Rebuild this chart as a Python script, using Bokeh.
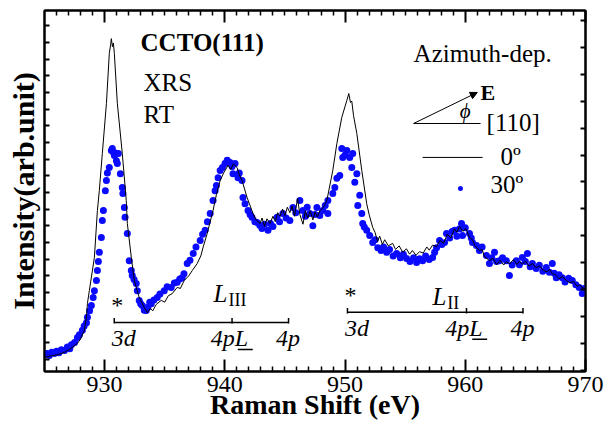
from bokeh.plotting import figure
from bokeh.models import FixedTicker, LinearAxis, Range1d, Label, Arrow, NormalHead, CustomJSTickFormatter
from bokeh.embed import file_html
from bokeh.resources import INLINE

# ---------------- data ----------------
line_x = [925.0, 925.5, 926.0, 926.66, 927.2, 927.74, 928.0, 928.32, 928.5, 928.57, 928.73, 929.15, 929.40,
          929.56, 929.81, 930.15, 930.39, 930.5, 930.56, 930.65, 930.73, 930.81, 931.06, 931.47, 931.80, 931.89,
          932.22, 932.47, 932.88, 933.30, 933.55, 933.8, 934.0, 934.3, 934.71, 935.0, 935.3, 935.6, 936.04, 936.3,
          936.62, 937.0, 937.3, 937.70, 938.0, 938.2, 938.53, 939.02, 939.3, 939.61, 939.9, 940.27, 940.5, 940.7,
          941.02, 941.2, 941.43, 941.85, 942.34, 942.6, 942.93, 943.1, 943.3, 943.5, 943.76, 944.0, 944.2, 944.4,
          944.59, 944.8, 945.0, 945.2, 945.41, 945.6, 945.8, 946.05, 946.24, 946.5, 946.7, 946.9, 947.1, 947.32,
          947.5, 947.7, 947.90, 948.2, 948.49, 948.98, 949.32, 949.73, 950.15, 950.31, 950.45, 950.56, 950.7,
          950.98, 951.39, 951.80, 952.0, 952.30, 952.5, 952.7, 952.88, 953.1, 953.3, 953.6, 953.96, 954.2, 954.5,
          954.8, 955.1, 955.37, 955.6, 955.9, 956.20, 956.5, 956.8, 957.0, 957.28, 957.6, 957.9, 958.2, 958.5,
          958.8, 959.1, 959.3, 959.52, 959.8, 960.05, 960.35, 960.6, 960.8, 961.18, 961.4, 961.6, 962.01, 962.3,
          962.6, 962.9, 963.2, 963.42, 963.7, 964.0, 964.3, 964.5, 964.75, 965.0, 965.3, 965.6, 965.9, 966.16,
          966.5, 966.8, 967.0, 967.24, 967.5, 967.8, 968.1, 968.40, 968.7, 969.0, 969.3, 969.5, 969.73, 970.0]
line_y = [3.9, 4.3, 4.6, 5.3, 6.4, 7.8, 9.0, 11.4, 15.5, 18.8, 22.4, 31.6, 44.6,
          50.1, 60.4, 74.2, 88.1, 90.5, 92.2, 90.0, 91.0, 88.1, 74.2, 60.4, 47.4, 41.0,
          31.6, 25.2, 20.5, 17.7, 16.3, 17.5, 16.8, 18.6, 19.7, 19.2, 21.0, 21.5, 23.3, 23.0,
          25.2, 26.5, 28.0, 29.9, 32.0, 34.5, 38.2, 44.6, 49.0, 52.9, 55.0, 57.1, 56.0, 57.5,
          56.5, 54.5, 52.9, 48.2, 43.8, 42.0, 41.0, 42.5, 40.2, 42.3, 41.0, 43.0, 41.5, 44.0,
          43.0, 45.0, 43.2, 45.5, 44.0, 45.8, 43.0, 47.9, 43.5, 40.8, 44.5, 42.5, 44.5, 42.0,
          44.2, 42.8, 44.5, 45.5, 47.4, 55.7, 63.2, 70.4, 75.1, 77.0, 74.5, 74.9, 71.0,
          65.9, 55.7, 46.5, 43.5, 39.9, 38.5, 36.0, 37.5, 35.2, 36.5, 34.8, 35.5, 33.8, 34.8,
          33.0, 34.0, 32.5, 33.5, 32.2, 33.2, 32.8, 34.5, 33.6, 35.0, 34.6, 36.3, 35.5, 38.0,
          37.0, 39.5, 38.6, 40.2, 38.8, 39.6, 37.1, 36.5, 34.9, 33.5, 33.8, 31.8, 30.7, 31.4,
          29.6, 30.8, 29.5, 30.4, 29.8, 31.0, 29.6, 30.6, 29.7, 30.6, 29.2, 29.9, 28.7, 29.3,
          28.0, 27.6, 28.3, 27.1, 26.8, 25.7, 26.3, 25.2, 24.6, 24.9, 23.6, 24.0, 23.3, 22.8]

dot_x = [925.0, 925.2, 925.4, 925.6, 925.83, 926.0, 926.2, 926.4, 926.66, 926.9, 927.1, 927.24, 927.5, 927.74,
         927.9, 928.15, 928.3, 928.49, 928.57, 928.75, 928.9, 929.05, 929.15, 929.32, 929.40, 929.48, 929.56,
         929.73, 929.81, 929.90, 930.06, 930.15, 930.23, 930.39, 930.56, 930.64, 930.73, 930.81, 930.9, 930.98,
         931.06, 931.14, 931.31, 931.47, 931.52, 931.64, 931.7, 931.89, 932.05, 932.22, 932.30, 932.45, 932.63,
         932.72, 932.88, 933.0, 933.13, 933.3, 933.46, 933.6, 933.75, 933.88, 934.1, 934.38, 934.6, 934.96,
         935.2, 935.54, 935.8, 936.04, 936.25, 936.45, 936.6, 936.87, 937.1, 937.37, 937.6, 937.95, 938.15,
         938.36, 938.55, 938.78, 939.02, 939.19, 939.3, 939.44, 939.61, 939.8, 940.02, 940.2, 940.44, 940.6,
         940.68, 940.85, 941.10, 941.2, 941.43, 941.51, 941.68, 941.93, 942.1, 942.26, 942.5, 942.68, 942.9,
         943.09, 943.3, 943.59, 943.8, 944.0, 944.34, 944.55, 944.83, 945.1, 945.41, 945.66, 945.9, 946.24,
         946.49, 946.7, 946.85, 947.07, 947.32, 947.5, 947.66, 947.9, 948.15, 948.35, 948.57, 948.57, 948.98,
         949.15, 949.32, 949.56, 949.73, 949.81, 950.0, 950.15, 950.39, 950.64, 950.56, 950.81, 950.98, 951.06,
         951.22, 951.39, 951.47, 951.6, 951.80, 952.05, 952.3, 952.5, 952.72, 953.0, 953.2, 953.46, 953.7,
         954.0, 954.29, 954.6, 954.85, 955.12, 955.4, 955.7, 955.95, 956.2, 956.45, 956.7, 957.0, 957.28,
         957.45, 957.61, 957.86, 958.05, 958.28, 958.44, 958.7, 958.9, 959.11, 959.3, 959.5, 959.69, 959.77,
         960.0, 960.35, 960.5, 960.60, 960.93, 961.18, 961.4, 961.76, 962.01, 962.2, 962.43, 962.6, 962.84,
         963.1, 963.42, 963.67, 963.9, 964.25, 964.5, 964.75, 965.0, 965.17, 965.4, 965.58, 965.9, 966.16,
         966.45, 966.74, 967.0, 967.24, 967.4, 967.57, 967.8, 968.07, 968.3, 968.6, 968.90, 969.2, 969.48,
         969.73, 969.9]
dot_y = [4.6, 5.0, 4.4, 5.3, 5.0, 5.6, 5.2, 6.0, 5.8, 6.8, 6.3, 7.4, 8.0, 9.4,
         10.2, 11.4, 12.6, 13.5, 15.0, 16.8, 18.3, 20.5, 22.4, 25.2, 28.0, 30.5, 33.0,
         37.1, 41.8, 44.6, 50.1, 52.9, 55.0, 56.5, 61.2, 61.8, 60.7, 59.8, 60.5, 58.4,
         57.6, 60.4, 54.8, 51.0, 49.3, 45.4, 42.7, 38.2, 30.7, 28.0, 26.6, 25.5, 24.4,
         22.4, 19.7, 18.8, 18.3, 17.0, 16.9, 17.8, 19.2, 18.8, 19.8, 20.5, 21.5, 22.4,
         23.5, 23.3, 24.5, 24.7, 25.6, 26.0, 27.1, 29.9, 30.8, 32.7, 34.5, 36.3, 38.0,
         39.1, 41.5, 43.8, 47.4, 50.1, 51.5, 53.7, 55.7, 56.5, 57.6, 58.5, 57.9, 56.8,
         54.8, 57.6, 53.7, 55.0, 52.9, 48.2, 46.5, 44.6, 43.5, 42.7, 41.5, 41.3, 40.5,
         39.6, 40.8, 39.1, 41.0, 40.2, 42.7, 41.5, 43.8, 42.5, 41.8, 45.4, 44.0, 47.4,
         44.6, 43.0, 45.5, 43.8, 40.4, 43.5, 45.4, 43.2, 44.6, 46.0, 47.4, 43.8, 49.3,
         51.0, 53.5, 54.3, 61.8, 59.3, 60.0, 61.2, 59.3, 60.4, 56.5, 52.4, 54.8, 46.0,
         48.8, 43.8, 41.0, 40.0, 39.1, 37.7, 35.7, 36.5, 34.3, 33.5, 34.5, 33.0, 33.8,
         32.0, 32.7, 31.5, 32.5, 31.3, 30.5, 31.5, 30.2, 31.2, 30.7, 32.0, 31.0, 31.6,
         33.0, 34.3, 36.3, 35.2, 35.7, 38.2, 37.0, 38.8, 39.1, 37.5, 39.5, 41.0, 37.7,
         39.8, 38.2, 37.0, 35.7, 34.9, 33.5, 34.5, 32.1, 29.9, 31.5, 33.0, 30.5, 30.7,
         31.5, 30.7, 26.6, 29.5, 30.7, 29.6, 31.6, 30.5, 32.7, 29.0, 29.9, 28.5, 29.4,
         27.8, 28.8, 27.5, 29.9, 27.2, 26.0, 26.8, 26.0, 24.8, 25.8, 25.2, 24.0, 23.3,
         21.6, 23.0]

x_major = [930, 940, 950, 960, 970]
x_minor = [v for v in range(926, 970) if v % 10 != 0]
x_labels = {930: "930", 940: "940", 950: "950", 960: "960", 970: "970"}

# bracket annotations (energies of 3d, 4pL, 4p)
edge_sub = ["III", "II"]
edge_3d = [930.8, 950.2]
edge_4pL = [940.6, 960.1]
edge_4p = [945.3, 964.8]
edge_level = [13.6, 16.4]

FONT = "Liberation Serif"
BLUE = "#0a0aff"

p = figure(width=605, height=425, x_range=Range1d(925, 970), y_range=Range1d(0, 100),
           output_backend="svg", toolbar_location=None,
           min_border_left=44, min_border_right=20, min_border_top=10, min_border_bottom=54)
p.grid.visible = False
p.outline_line_color = "black"
p.outline_line_width = 2
p.background_fill_color = "white"
p.border_fill_color = "white"

blank = CustomJSTickFormatter(code="return ''")

# bottom axis
xa = p.xaxis[0]
xa.ticker = FixedTicker(ticks=x_major, minor_ticks=x_minor)
xa.major_label_overrides = x_labels
xa.major_tick_in = 12
xa.major_tick_out = 0
xa.minor_tick_in = 5
xa.minor_tick_out = 0
xa.major_tick_line_width = 2
xa.minor_tick_line_width = 1.5
xa.axis_line_width = 2
xa.major_label_standoff = 5
xa.major_label_text_font = FONT
xa.major_label_text_font_size = "24px"
xa.major_label_text_color = "black"
xa.axis_label = "Raman Shift (eV)"
xa.axis_label_text_font = FONT
xa.axis_label_text_font_size = "28px"
xa.axis_label_text_font_style = "bold"
xa.axis_label_standoff = -6
xa.axis_label_text_color = "black"

# left / right tick positions (tick marks only, no labels)
left_ticks = [95.8 - 4.62 * k for k in range(21)]
right_ticks = [97.2 - 7.45 * k for k in range(14)]
ya = p.yaxis[0]
ya.ticker = FixedTicker(ticks=left_ticks, minor_ticks=[])
ya.formatter = blank
ya.major_tick_in = 5
ya.major_tick_out = 0
ya.major_tick_line_width = 2
ya.axis_line_width = 2
ya.major_label_text_font_size = "2px"
ya.major_label_standoff = 0
ya.axis_label = "Intensity(arb.unit)"
ya.axis_label_text_font = FONT
ya.axis_label_text_font_size = "30px"
ya.axis_label_text_font_style = "bold"
ya.axis_label_standoff = 5
ya.axis_label_text_color = "black"

top = LinearAxis(ticker=FixedTicker(ticks=x_major, minor_ticks=x_minor), formatter=blank,
                 major_tick_in=12, major_tick_out=0, minor_tick_in=5, minor_tick_out=0,
                 major_tick_line_width=2, minor_tick_line_width=1.5, axis_line_width=2,
                 major_label_text_font_size="2px", major_label_standoff=0)
p.add_layout(top, "above")
right = LinearAxis(ticker=FixedTicker(ticks=right_ticks, minor_ticks=[]), formatter=blank,
                   major_tick_in=5, major_tick_out=0, major_tick_line_width=2, axis_line_width=2,
                   major_label_text_font_size="2px", major_label_standoff=0)
p.add_layout(right, "right")

# data
p.scatter(dot_x, dot_y, size=7, color=BLUE, line_width=0)
p.line(line_x, line_y, color="black", line_width=1)

def lab(x, y, text, size, style="normal", align="left"):
    p.add_layout(Label(x=x, y=y, text=text, text_font=FONT, text_font_size=size,
                       text_font_style=style, text_align=align, text_baseline="middle",
                       text_color="black"))

lab(932.99, 91.0, "CCTO(111)", "25px", "bold")
lab(933.24, 80.1, "XRS", "25px")
lab(933.24, 71.2, "RT", "25px")
lab(955.7, 88.0, "Azimuth-dep.", "25px")
lab(961.27, 77.2, "E", "22px", "bold")
lab(961.77, 69.1, "[110]", "25px")
lab(962.94, 59.6, "0º", "25px")
lab(962.1, 51.7, "30º", "25px")
lab(959.55, 72.2, "ϕ", "21px", "italic")

# E-vector sketch
p.segment(x0=[955.7], y0=[68.7], x1=[961.27], y1=[68.7], color="black", line_width=1)
p.add_layout(Arrow(end=NormalHead(size=7, fill_color="black", line_color="black"),
                   x_start=955.7, y_start=68.7, x_end=961.0, y_end=77.3,
                   line_color="black", line_width=1))

# legend
p.line([956.45, 961.44], [59.3, 59.3], color="black", line_width=1)
p.scatter([959.6], [50.7], size=5, color=BLUE, line_width=0)

# brackets
name_y = [21.5, 20.8]
star_y = [18.3, 21.1]
low_y = [9.3, 12.0]
for i in range(2):
    lv = edge_level[i]
    p.segment(x0=[edge_3d[i]], y0=[lv], x1=[edge_4p[i]], y1=[lv], color="black", line_width=1.5)
    p.segment(x0=[edge_3d[i], edge_4pL[i], edge_4p[i]], y0=[lv - 0.3] * 3,
              x1=[edge_3d[i], edge_4pL[i], edge_4p[i]], y1=[lv + 1.2] * 3, color="black", line_width=1.5)
    lab(edge_3d[i] + 0.25, star_y[i], "*", "24px", align="center")
    lab(edge_3d[i] - 0.2, low_y[i], "3d", "24px", "italic")
    lab(edge_4pL[i] - 1.77, low_y[i], "4pL", "24px", "italic")
    p.segment(x0=[edge_4pL[i] + 0.48], y0=[lv - 7.5], x1=[edge_4pL[i] + 1.72], y1=[lv - 7.5],
              color="black", line_width=1.5)
    lab(edge_4p[i] - 0.05, low_y[i], "4p", "24px", "italic", align="center")
    lab(edge_4pL[i] - 1.55 if i == 0 else edge_4pL[i] - 2.82, name_y[i], "L", "25px", "italic")
    lab(edge_4pL[i] - 0.3 if i == 0 else edge_4pL[i] - 1.6, name_y[i] - 1.7, edge_sub[i], "18px")

open("out.html", "w").write(file_html(p, INLINE))
